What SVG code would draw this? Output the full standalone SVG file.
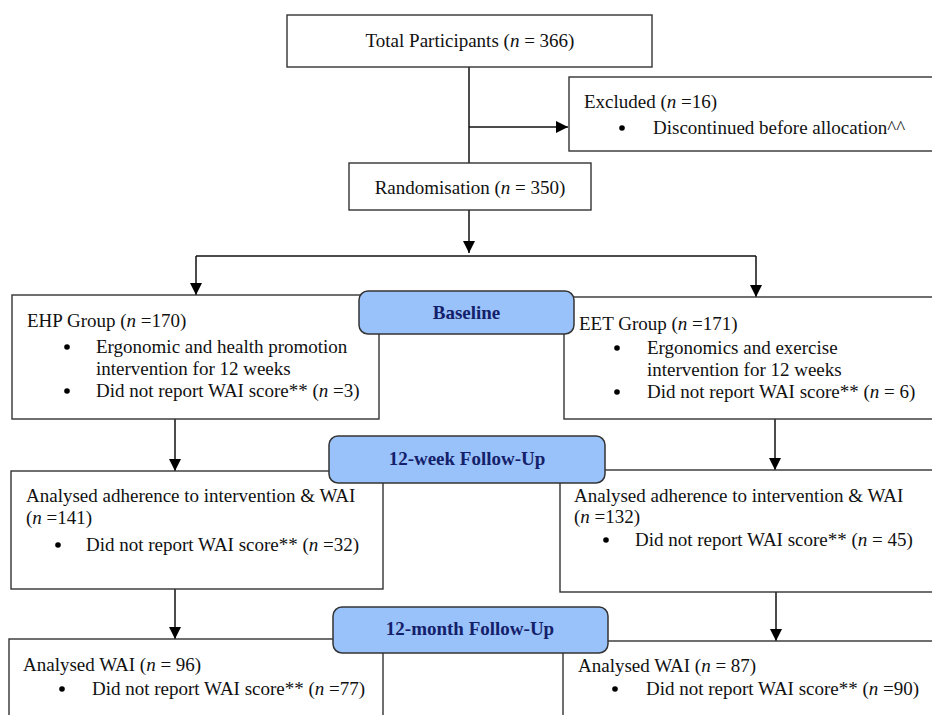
<svg xmlns="http://www.w3.org/2000/svg" width="932" height="715" viewBox="0 0 932 715">
<defs>
<style>
.box{fill:#fff;stroke:#333;stroke-width:1.4}
.pill{fill:#99c2fa;stroke:#333;stroke-width:1.5}
.t{font-family:"Liberation Serif","Times New Roman",serif;font-size:19px;fill:#111}
.c{text-anchor:middle}
.b{font-family:"Liberation Serif","Times New Roman",serif;font-size:19px;font-weight:bold;fill:#14206a;text-anchor:middle}
.i{font-style:italic}
.ln{fill:none;stroke:#111;stroke-width:1.5}
.dot{fill:#000}
</style>
<marker id="ah" markerUnits="userSpaceOnUse" markerWidth="14" markerHeight="14" refX="12" refY="6" orient="auto">
<path d="M0,0 L12,6 L0,12 Z" fill="#000"/>
</marker>
</defs>
<rect width="932" height="715" fill="#fff"/>

<g id="connectors">
<path class="ln" d="M469,67 V163"/>
<path class="ln" d="M469,127 H568" marker-end="url(#ah)"/>
<path class="ln" d="M469,210 V253" marker-end="url(#ah)"/>
<path class="ln" d="M196,256 H756"/>
<path class="ln" d="M196,256 V295" marker-end="url(#ah)"/>
<path class="ln" d="M756,256 V297" marker-end="url(#ah)"/>
<path class="ln" d="M175,419 V471" marker-end="url(#ah)"/>
<path class="ln" d="M775,419 V470" marker-end="url(#ah)"/>
<path class="ln" d="M175,589 V639" marker-end="url(#ah)"/>
<path class="ln" d="M776,592 V641" marker-end="url(#ah)"/>
</g>

<g id="total">
<rect class="box" x="287" y="15" width="365" height="52"/>
<text class="t c" x="470" y="47">Total Participants (<tspan class="i">n</tspan> = 366)</text>
</g>

<g id="excluded">
<rect class="box" x="569" y="77" width="380" height="74"/>
<text class="t" x="584" y="108">Excluded (<tspan class="i">n</tspan> =16)</text>
<circle class="dot" cx="622" cy="128" r="2.8"/>
<text class="t" x="653" y="134">Discontinued before allocation^^</text>
</g>

<g id="randomisation">
<rect class="box" x="349" y="163" width="242" height="47"/>
<text class="t c" x="470" y="194">Randomisation (<tspan class="i">n</tspan> = 350)</text>
</g>

<g id="ehp">
<rect class="box" x="12" y="295" width="367" height="124"/>
<text class="t" x="27" y="327">EHP Group (<tspan class="i">n</tspan> =170)</text>
<circle class="dot" cx="67" cy="347" r="2.8"/>
<text class="t" x="96" y="353">Ergonomic and health promotion</text>
<text class="t" x="96" y="375">intervention for 12 weeks</text>
<circle class="dot" cx="67" cy="391" r="2.8"/>
<text class="t" x="96" y="397">Did not report WAI score** (<tspan class="i">n</tspan> =3)</text>
</g>

<g id="eet">
<rect class="box" x="564" y="297" width="380" height="122"/>
<text class="t" x="579" y="330">EET Group (<tspan class="i">n</tspan> =171)</text>
<circle class="dot" cx="617" cy="348" r="2.8"/>
<text class="t" x="647" y="354">Ergonomics and exercise</text>
<text class="t" x="647" y="376">intervention for 12 weeks</text>
<circle class="dot" cx="617" cy="392" r="2.8"/>
<text class="t" x="647" y="398">Did not report WAI score** (<tspan class="i">n</tspan> = 6)</text>
</g>

<g id="baseline">
<rect class="pill" x="359" y="291" width="215" height="43" rx="9"/>
<text class="b" x="466.5" y="319">Baseline</text>
</g>

<g id="ehp-12week">
<rect class="box" x="11" y="471" width="372" height="118"/>
<text class="t" x="26" y="502">Analysed adherence to intervention &amp; WAI</text>
<text class="t" x="26" y="524">(<tspan class="i">n</tspan> =141)</text>
<circle class="dot" cx="58" cy="545" r="2.8"/>
<text class="t" x="86" y="551">Did not report WAI score** (<tspan class="i">n</tspan> =32)</text>
</g>

<g id="eet-12week">
<rect class="box" x="560" y="470" width="384" height="122"/>
<text class="t" x="574" y="502">Analysed adherence to intervention &amp; WAI</text>
<text class="t" x="574" y="523">(<tspan class="i">n</tspan> =132)</text>
<circle class="dot" cx="606" cy="540" r="2.8"/>
<text class="t" x="635" y="546">Did not report WAI score** (<tspan class="i">n</tspan> = 45)</text>
</g>

<g id="week12">
<rect class="pill" x="329" y="436" width="276" height="47" rx="9"/>
<text class="b" x="467" y="465">12-week Follow-Up</text>
</g>

<g id="ehp-12month">
<rect class="box" x="9" y="639" width="374" height="90"/>
<text class="t" x="23" y="671">Analysed WAI (<tspan class="i">n</tspan> = 96)</text>
<circle class="dot" cx="62" cy="689" r="2.8"/>
<text class="t" x="92" y="695">Did not report WAI score** (<tspan class="i">n</tspan> =77)</text>
</g>

<g id="eet-12month">
<rect class="box" x="563" y="641" width="381" height="90"/>
<text class="t" x="578" y="672">Analysed WAI (<tspan class="i">n</tspan> = 87)</text>
<circle class="dot" cx="615" cy="689" r="2.8"/>
<text class="t" x="646" y="695">Did not report WAI score** (<tspan class="i">n</tspan> =90)</text>
</g>

<g id="month12">
<rect class="pill" x="333" y="607" width="275" height="46" rx="9"/>
<text class="b" x="470" y="635">12-month Follow-Up</text>
</g>
</svg>
